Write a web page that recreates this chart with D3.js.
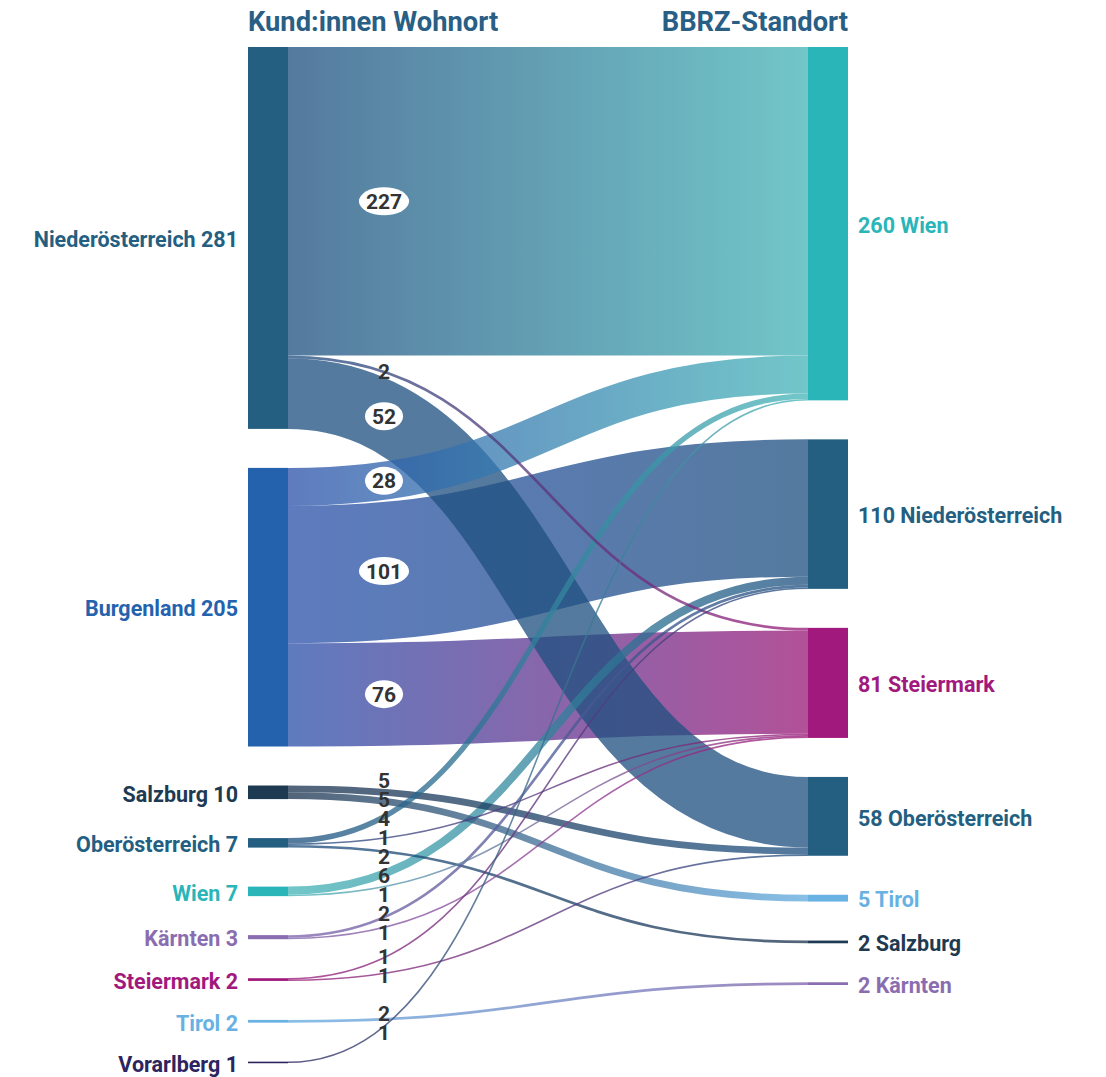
<!DOCTYPE html>
<html><head><meta charset="utf-8">
<script src="https://cdn.jsdelivr.net/npm/d3@7"></script>
<style>
html,body{margin:0;padding:0;background:#fff;}
svg{display:block;font-family:Roboto,"Noto Sans",sans-serif;}
</style></head>
<body>
<svg id="chart" width="1106" height="1077"></svg>
<script>
// ---- data ----
const sourceNames = ["Niederösterreich","Burgenland","Salzburg","Oberösterreich","Wien","Kärnten","Steiermark","Tirol","Vorarlberg"];
const targetNames = ["Wien","Niederösterreich","Steiermark","Oberösterreich","Tirol","Salzburg","Kärnten"];
const linkSource = ["Niederösterreich","Niederösterreich","Niederösterreich","Burgenland","Burgenland","Burgenland","Salzburg","Salzburg","Oberösterreich","Oberösterreich","Oberösterreich","Wien","Wien","Kärnten","Kärnten","Steiermark","Steiermark","Tirol","Vorarlberg"];
const linkTarget = ["Wien","Steiermark","Oberösterreich","Wien","Niederösterreich","Steiermark","Oberösterreich","Tirol","Wien","Steiermark","Salzburg","Niederösterreich","Steiermark","Niederösterreich","Steiermark","Niederösterreich","Oberösterreich","Kärnten","Wien"];
const linkValue = [227,2,52,28,101,76,5,5,4,1,2,6,1,2,1,1,1,2,1];

// ---- styles ----
const regionColors = {
  "Niederösterreich":"#245f82","Burgenland":"#2462ae","Salzburg":"#1e3a52","Oberösterreich":"#245f82",
  "Wien":"#2ab5b9","Kärnten":"#8a6db0","Steiermark":"#a2197e","Tirol":"#67b2e3","Vorarlberg":"#2c245e"
};
const linkColors = {
  "Niederösterreich":"#1f5080","Burgenland":"#2b52aa","Salzburg":"#1c3450","Oberösterreich":"#1f5080",
  "Wien":"#45b5b8","Kärnten":"#7e62aa","Steiermark":"#9a1a78","Tirol":"#62abe0","Vorarlberg":"#2c245e"
};
const titleLeft = "Kund:innen Wohnort";
const titleRight = "BBRZ-Standort";

// ---- layout ----
const svg = d3.select("#chart");
const yTop = 47, yBottom = 1063, pad = 39;
const xL0 = 248, xL1 = 288, xR0 = 808, xR1 = 848;

const links = linkValue.map((v,i)=>({s:linkSource[i], t:linkTarget[i], value:v, i}));
const leftNodes = sourceNames.map((n,i)=>({name:n, idx:i, value:d3.sum(links.filter(l=>l.s===n), l=>l.value)}));
const rightNodes = targetNames.map((n,i)=>({name:n, idx:i, value:d3.sum(links.filter(l=>l.t===n), l=>l.value)}));
const total = d3.sum(leftNodes, d=>d.value);
const ky = d3.scaleLinear().domain([0,total]).range([0, (yBottom-yTop) - pad*(leftNodes.length-1)]);

function stack(nodes){
  let y = yTop;
  nodes.forEach(n=>{ n.y0 = y; n.y1 = y + ky(n.value); y = n.y1 + pad; });
}
stack(leftNodes); stack(rightNodes);
const L = new Map(leftNodes.map(n=>[n.name,n]));
const R = new Map(rightNodes.map(n=>[n.name,n]));
links.forEach(l=>{ l.src = L.get(l.s); l.tgt = R.get(l.t); l.w = ky(l.value); });
leftNodes.forEach(n=>{
  let y = n.y0;
  links.filter(l=>l.src===n).sort((a,b)=>a.tgt.idx-b.tgt.idx).forEach(l=>{ l.ys = y + l.w/2; y += l.w; });
});
rightNodes.forEach(n=>{
  let y = n.y0;
  links.filter(l=>l.tgt===n).sort((a,b)=>a.src.idx-b.src.idx).forEach(l=>{ l.yt = y + l.w/2; y += l.w; });
});

// ---- gradients ----
const defs = svg.append("defs");
links.forEach(l=>{
  const g = defs.append("linearGradient").attr("id","g"+l.i)
    .attr("gradientUnits","userSpaceOnUse").attr("x1",xL1).attr("x2",xR0).attr("y1",0).attr("y2",0);
  g.append("stop").attr("offset","0%").attr("stop-color",linkColors[l.s]);
  g.append("stop").attr("offset","100%").attr("stop-color",linkColors[l.t]);
});

const linkGen = d3.linkHorizontal().source(d=>[xL1,d.ys]).target(d=>[xR0,d.yt]);
svg.append("g").selectAll("path").data(links.slice().sort((a,b)=>b.value-a.value)).join("path")
  .attr("d", linkGen).attr("fill","none")
  .attr("stroke", d=>`url(#g${d.i})`).attr("stroke-opacity",0.76)
  .attr("stroke-width", d=>Math.max(1.6,d.w));

// ---- nodes ----
svg.append("g").selectAll("rect").data(leftNodes).join("rect")
  .attr("x",xL0).attr("width",xL1-xL0).attr("y",d=>d.y0).attr("height",d=>Math.max(1.6,d.y1-d.y0))
  .attr("fill",d=>regionColors[d.name]);
svg.append("g").selectAll("rect").data(rightNodes).join("rect")
  .attr("x",xR0).attr("width",xR1-xR0).attr("y",d=>d.y0).attr("height",d=>Math.max(1.6,d.y1-d.y0))
  .attr("fill",d=>regionColors[d.name]);

// node labels
const labelFS = 21.5;
svg.append("g").selectAll("text").data(leftNodes).join("text")
  .attr("x",xL0-10).attr("y",d=>(d.y0+d.y1)/2 + 1.5).attr("dy","0.36em")
  .attr("text-anchor","end").attr("font-size",labelFS).attr("font-weight",700)
  .attr("fill",d=>regionColors[d.name]).text(d=>`${d.name} ${d.value}`);
svg.append("g").selectAll("text").data(rightNodes).join("text")
  .attr("x",xR1+10).attr("y",d=>(d.y0+d.y1)/2 + 1.5).attr("dy","0.36em")
  .attr("text-anchor","start").attr("font-size",labelFS).attr("font-weight",700)
  .attr("fill",d=>regionColors[d.name]).text(d=>`${d.value} ${d.name}`);

// titles
svg.append("text").attr("x",xL0).attr("y",31).attr("font-size",27.3).attr("font-weight",700)
  .attr("fill","#2a5f85").text(titleLeft);
svg.append("text").attr("x",xR1).attr("y",31).attr("text-anchor","end").attr("font-size",27.3).attr("font-weight",700)
  .attr("fill","#2a5f85").text(titleRight);

// ---- value labels ----
const labelX = 384;
function yAtX(l, x){
  const xm = (xL1+xR0)/2;
  let lo=0, hi=1;
  for(let k=0;k<40;k++){
    const t=(lo+hi)/2;
    const bx = (1-t)**3*xL1 + 3*(1-t)**2*t*xm + 3*(1-t)*t*t*xm + t**3*xR0;
    if(bx<x) lo=t; else hi=t;
  }
  const t=(lo+hi)/2;
  return (1-t)**3*l.ys + 3*(1-t)**2*t*l.ys + 3*(1-t)*t*t*l.yt + t**3*l.yt;
}
const lab = links.map(l=>({l, y0:yAtX(l,labelX)})).sort((a,b)=>a.y0-b.y0);
const sp = 18.9;
let clusters = lab.map(d=>({items:[d], c:d.y0}));
let merged = true;
while(merged){
  merged=false;
  for(let i=0;i<clusters.length-1;i++){
    const a=clusters[i], b=clusters[i+1];
    const aEnd = a.c + (a.items.length-1)*sp/2, bStart = b.c - (b.items.length-1)*sp/2;
    if(bStart - aEnd < sp){
      const items = a.items.concat(b.items);
      clusters.splice(i,2,{items, c:d3.mean(items,d=>d.y0)});
      merged=true; break;
    }
  }
}
clusters.forEach(c=>c.items.forEach((d,k)=>{ d.y = c.c + (k-(c.items.length-1)/2)*sp; }));

const lg = svg.append("g");
lab.forEach(d=>{
  const g = lg.append("g").attr("transform",`translate(${labelX},${d.y})`);
  const big = d.l.value>=10;
  const el = big ? g.append("ellipse").attr("fill","#fff") : null;
  const t = g.append("text").attr("text-anchor","middle").attr("dy","0.36em")
    .attr("font-size",21).attr("font-weight",700).attr("fill","#333").text(d.l.value);
  if(big){ const w=t.node().getComputedTextLength(); el.attr("rx",w/2+7).attr("ry",14); }
});
</script>
</body></html>
